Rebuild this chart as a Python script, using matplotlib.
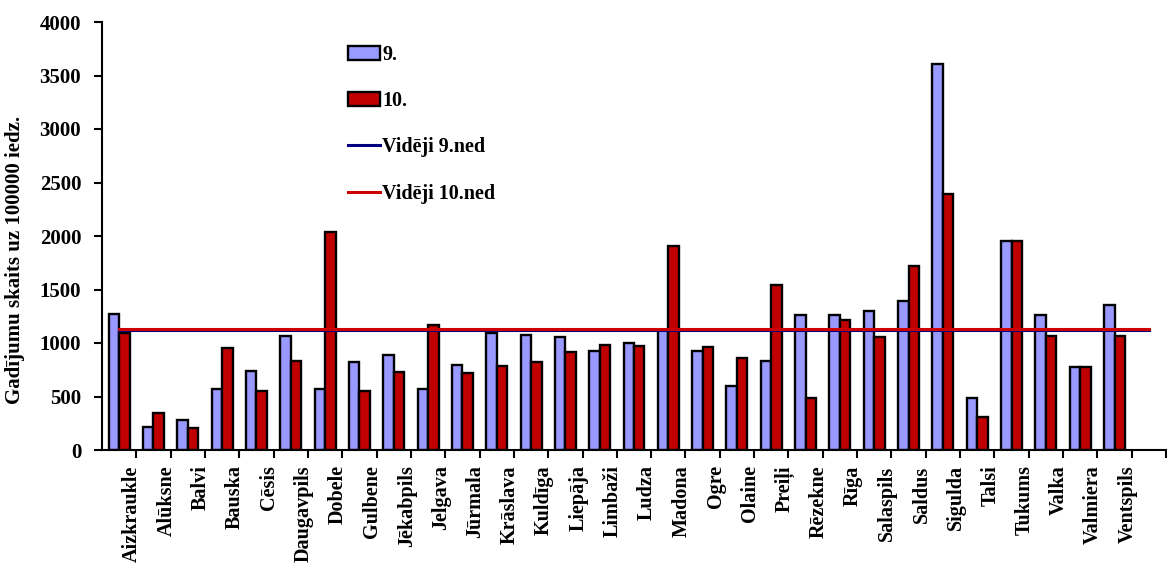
import numpy as np
import matplotlib
matplotlib.use("Agg")
import matplotlib.pyplot as plt
from matplotlib.transforms import ScaledTranslation

categories = ["Aizkraukle", "Alūksne", "Balvi", "Bauska", "Cēsis", "Daugavpils",
              "Dobele", "Gulbene", "Jēkabpils", "Jelgava", "Jūrmala", "Krāslava",
              "Kuldīga", "Liepāja", "Limbaži", "Ludza", "Madona", "Ogre", "Olaine",
              "Preiļi", "Rēzekne", "Rīga", "Salaspils", "Saldus", "Sigulda", "Talsi",
              "Tukums", "Valka", "Valmiera", "Ventspils"]
week9 = [1275, 214, 277, 566, 740, 1063, 566, 820, 892, 566, 799, 1091,
         1079, 1057, 926, 998, 1120, 926, 600, 833, 1262, 1262, 1296, 1389,
         3605, 485, 1949, 1262, 774, 1355]
week10 = [1091, 348, 205, 954, 553, 830, 2033, 553, 727, 1172, 718, 786,
          820, 914, 985, 973, 1902, 963, 858, 1545, 485, 1212, 1057, 1716,
          2393, 311, 1949, 1066, 774, 1066]
avg_week9 = 1125
avg_week10 = 1135
series_labels = ["9.", "10.", "Vidēji 9.ned", "Vidēji 10.ned"]
y_ticks = [0, 500, 1000, 1500, 2000, 2500, 3000, 3500, 4000]
y_label = "Gadījumu skaits uz 100000 iedz."

plt.rcParams['font.family'] = ['Liberation Serif', 'DejaVu Serif']
plt.rcParams['font.weight'] = 'bold'

fig = plt.figure(figsize=(11.67, 5.83), dpi=100)
ax = fig.add_axes([102 / 1167, 1 - 450 / 583, 1 - 102 / 1167 - 1 / 1167, (450 - 22) / 583])

n = len(categories)
x = np.arange(n)
w = 0.305
b9 = ax.bar(x - w / 2, week9, width=w, color="#9999FF", edgecolor="black", linewidth=1.7,
            label=series_labels[0], zorder=2)
b10 = ax.bar(x + w / 2, week10, width=w, color="#C00000", edgecolor="black", linewidth=1.7,
             label=series_labels[1], zorder=2)

xl = np.arange(n + 1)
l9, = ax.plot(xl, np.full(len(xl), avg_week9), color="#000080", linewidth=2.2,
              label=series_labels[2], zorder=3)
l10, = ax.plot(xl, np.full(len(xl), avg_week10), color="#CC0000", linewidth=2.2,
               label=series_labels[3], zorder=4)

ax.set_xlim(-0.5, n + 0.5)
ax.set_ylim(0, 4000)
ax.set_yticks(y_ticks)
ax.set_yticklabels([str(v) for v in y_ticks], fontsize=15, fontweight='bold')
ax.tick_params(axis='y', direction='out', length=6, width=1.5, pad=9)

ax.set_xticks(x)
ax.set_xticklabels(categories, rotation=90, fontsize=14.5, fontweight='bold', va='top', ha='center')
ax.set_xticks(np.arange(n + 1) + 0.5, minor=True)
ax.tick_params(axis='x', which='major', length=0, pad=11)
ax.tick_params(axis='x', which='minor', direction='out', length=6, width=1.5)
offset = ScaledTranslation(13 / 100, 0, fig.dpi_scale_trans)
for lab in ax.get_xticklabels():
    lab.set_transform(lab.get_transform() + offset)

for s in ["top", "right"]:
    ax.spines[s].set_visible(False)
for s in ["left", "bottom"]:
    ax.spines[s].set_linewidth(1.5)

fig.text(15 / 1167, 1 - 260 / 583, y_label, rotation=90, ha='center', va='center',
         fontsize=15, fontweight='bold')

leg = ax.legend(handles=[b9, b10, l9, l10], labels=series_labels,
                loc='upper left', bbox_to_anchor=(338 / 1167, 1 - 35 / 583),
                bbox_transform=fig.transFigure, frameon=False, fontsize=14.5,
                handlelength=1.6, handletextpad=0.1, labelspacing=1.3, borderpad=0)
for t in leg.get_texts():
    t.set_fontweight('bold')

fig.savefig("out.png", dpi=100)
